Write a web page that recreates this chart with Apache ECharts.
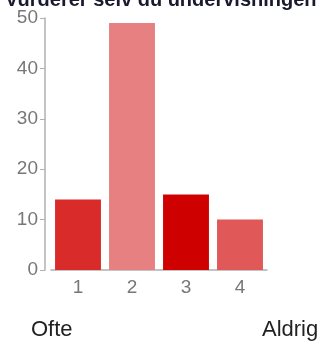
<!DOCTYPE html>
<html>
<head>
<meta charset="utf-8">
<script src="https://cdn.jsdelivr.net/npm/echarts@6/dist/echarts.min.js"></script>
<style>
  html, body { margin: 0; padding: 0; background: #fff; }
  #chart { width: 325px; height: 347px; }
</style>
</head>
<body>
<div id="chart"></div>
<script>
const categories = ['1', '2', '3', '4']
const values = [14, 49, 15, 10]
const barColors = ['#da2b2b', '#e78080', '#cf0000', '#e05858']
const yTicks = { min: 0, max: 50, interval: 10 }
const scaleEnds = ['Ofte', 'Aldrig']
const titleText = 'Vurderer selv du undervisningen'

const myChart = echarts.init(document.getElementById('chart'))

const option = {
  animation: false,
  title: {
    text: titleText,
    left: 0,
    top: -15,
    textStyle: {
      fontFamily: 'Liberation Sans, Arial',
      fontSize: 20,
      fontWeight: 'bold',
      color: '#1a1a2e'
    }
  },
  grid: {
    left: 51,
    right: 58,
    top: 18,
    bottom: 77
  },
  xAxis: {
    type: 'category',
    data: categories,
    axisLine: { lineStyle: { color: '#b0b0b0', width: 1.5 } },
    axisTick: { alignWithLabel: true, length: 5, lineStyle: { color: '#b0b0b0' } },
    axisLabel: {
      color: '#777',
      fontFamily: 'Liberation Sans, Arial',
      fontSize: 19,
      margin: 8
    }
  },
  yAxis: {
    type: 'value',
    min: yTicks.min,
    max: yTicks.max,
    interval: yTicks.interval,
    offset: 6,
    splitLine: { show: false },
    axisLine: { show: true, lineStyle: { color: '#b0b0b0', width: 1.5 } },
    axisTick: { show: true, length: 5, lineStyle: { color: '#b0b0b0' } },
    axisLabel: {
      color: '#777',
      fontFamily: 'Liberation Sans, Arial',
      fontSize: 19,
      margin: 7
    }
  },
  series: [
    {
      type: 'bar',
      data: values.map((v, i) => ({ value: v, itemStyle: { color: barColors[i] } })),
      barCategoryGap: '15%'
    }
  ],
  graphic: [
    {
      type: 'text',
      left: 31,
      top: 319,
      style: {
        text: scaleEnds[0],
        fill: '#222',
        font: '22px "Liberation Sans", Arial'
      }
    },
    {
      type: 'text',
      left: 262,
      top: 319,
      style: {
        text: scaleEnds[1],
        fill: '#222',
        font: '22px "Liberation Sans", Arial'
      }
    }
  ]
}

myChart.setOption(option)
</script>
</body>
</html>
